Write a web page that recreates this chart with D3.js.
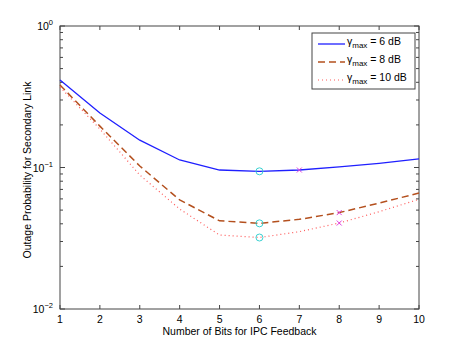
<!DOCTYPE html>
<html>
<head>
<meta charset="utf-8">
<script src="https://cdn.jsdelivr.net/npm/d3@7"></script>
<style>
  body { margin: 0; background: #fff; }
  svg { font-family: "Liberation Sans", Arial, sans-serif; }
</style>
</head>
<body>
<div id="chart"></div>
<script>
const bits = [1, 2, 3, 4, 5, 6, 7, 8, 9, 10];
const outage6dB = [0.415, 0.243, 0.156, 0.113, 0.096, 0.094, 0.096, 0.101, 0.107, 0.115];
const outage8dB = [0.383, 0.196, 0.1025, 0.059, 0.042, 0.0403, 0.043, 0.048, 0.056, 0.066];
const outage10dB = [0.371, 0.187, 0.0885, 0.0509, 0.0333, 0.032, 0.0352, 0.0405, 0.0487, 0.0596];
const legendLabels = ['6', '8', '10'];
// optimum points (circles) and crosses
const circleBits = [6, 6, 6];
const crossBits = [7, 8, 8];

const width = 463, height = 349;
const margin = { left: 60, right: 44, top: 26, bottom: 40 };

const svg = d3.select('#chart')
  .append('svg')
  .attr('width', width)
  .attr('height', height);

const x = d3.scaleLinear().domain([1, 10]).range([margin.left, width - margin.right]);
const y = d3.scaleLog().domain([0.01, 1]).range([height - margin.bottom, margin.top]);

const axisColor = '#444';
const tickLen = 4;

// frame
svg.append('rect')
  .attr('x', x(1)).attr('y', y(1))
  .attr('width', x(10) - x(1)).attr('height', y(0.01) - y(1))
  .attr('fill', 'none').attr('stroke', axisColor).attr('stroke-width', 1);

// x ticks (bottom and top, inward)
bits.forEach(b => {
  svg.append('line')
    .attr('x1', x(b)).attr('x2', x(b))
    .attr('y1', y(0.01)).attr('y2', y(0.01) - tickLen)
    .attr('stroke', axisColor);
  svg.append('line')
    .attr('x1', x(b)).attr('x2', x(b))
    .attr('y1', y(1)).attr('y2', y(1) + tickLen)
    .attr('stroke', axisColor);
  svg.append('text')
    .attr('x', x(b)).attr('y', y(0.01) + 14)
    .attr('text-anchor', 'middle')
    .attr('font-size', 10.5)
    .text(b);
});

// y ticks: major and minor, left and right
const yTicks = [];
for (let e = -2; e < 0; e++) {
  for (let m = 1; m < 10; m++) yTicks.push({ v: m * Math.pow(10, e), major: m === 1 });
}
yTicks.push({ v: 1, major: true });
yTicks.forEach(t => {
  const len = t.major ? tickLen + 1 : tickLen - 1;
  svg.append('line')
    .attr('x1', x(1)).attr('x2', x(1) + len)
    .attr('y1', y(t.v)).attr('y2', y(t.v))
    .attr('stroke', axisColor);
  svg.append('line')
    .attr('x1', x(10)).attr('x2', x(10) - len)
    .attr('y1', y(t.v)).attr('y2', y(t.v))
    .attr('stroke', axisColor);
});
[-2, -1, 0].forEach(e => {
  const t = svg.append('text')
    .attr('x', x(1) - 7).attr('y', y(Math.pow(10, e)) + 4)
    .attr('text-anchor', 'end')
    .attr('font-size', 10.5);
  t.append('tspan').text('10');
  t.append('tspan').attr('dy', -5).attr('font-size', 7.5).text(e === 0 ? '0' : '\u2212' + (-e));
});

// axis labels
svg.append('text')
  .attr('x', (x(1) + x(10)) / 2).attr('y', height - 14)
  .attr('text-anchor', 'middle')
  .attr('font-size', 10.5)
  .text('Number of Bits for IPC Feedback');

svg.append('text')
  .attr('transform', 'translate(31, 170) rotate(-90)')
  .attr('text-anchor', 'middle')
  .attr('font-size', 10.5)
  .text('Outage Probability for Secondary Link');

// series
const series = [
  { values: outage6dB, color: '#1f1fff', dash: null, width: 1.3 },
  { values: outage8dB, color: '#b4501e', dash: '7,4', width: 1.5 },
  { values: outage10dB, color: '#ff5a5a', dash: '1,3', width: 1.2 }
];

const line = d3.line()
  .x((d, i) => x(bits[i]))
  .y(d => y(d));

series.forEach((s, k) => {
  svg.append('path')
    .datum(s.values)
    .attr('d', line)
    .attr('fill', 'none')
    .attr('stroke', s.color)
    .attr('stroke-width', s.width)
    .attr('stroke-dasharray', s.dash);

  const ci = bits.indexOf(circleBits[k]);
  svg.append('circle')
    .attr('cx', x(circleBits[k])).attr('cy', y(s.values[ci]))
    .attr('r', 3.5)
    .attr('fill', 'none')
    .attr('stroke', '#3cd2d2')
    .attr('stroke-width', 1);

  const xi = bits.indexOf(crossBits[k]);
  const cx = x(crossBits[k]), cy = y(s.values[xi]);
  svg.append('path')
    .attr('d', `M${cx - 2.5},${cy - 2.5}L${cx + 2.5},${cy + 2.5}M${cx - 2.5},${cy + 2.5}L${cx + 2.5},${cy - 2.5}`)
    .attr('stroke', '#e040e0')
    .attr('stroke-width', 1);
});

// legend
const lg = svg.append('g');
lg.append('rect')
  .attr('x', 312).attr('y', 33)
  .attr('width', 103).attr('height', 56)
  .attr('fill', '#fff').attr('stroke', axisColor);

series.forEach((s, k) => {
  const ly = 44 + k * 18;
  lg.append('line')
    .attr('x1', 318).attr('x2', 345)
    .attr('y1', ly).attr('y2', ly)
    .attr('stroke', s.color)
    .attr('stroke-width', s.width)
    .attr('stroke-dasharray', s.dash);
  const t = lg.append('text')
    .attr('x', 347).attr('y', ly + 1)
    .attr('font-size', 10.5);
  t.append('tspan').text('\u03b3');
  t.append('tspan').attr('dy', 3).attr('font-size', 8).text('max');
  t.append('tspan').attr('dy', -3).text(' = ' + legendLabels[k] + ' dB');
});
</script>
</body>
</html>
